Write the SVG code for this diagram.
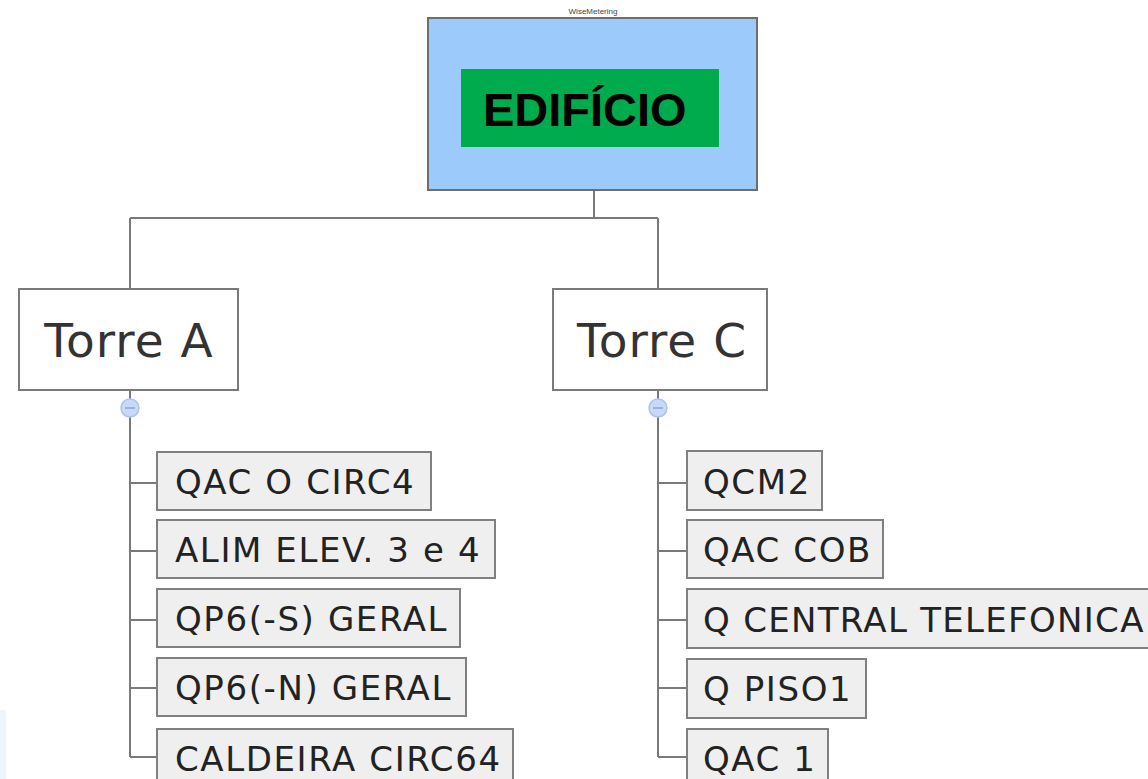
<svg xmlns="http://www.w3.org/2000/svg" width="1148" height="779" viewBox="0 0 1148 779">
  <style>
    .conn { fill: none; stroke: #7a7a7a; stroke-width: 2; }
    .tower rect { fill: #ffffff; stroke: #7a7a7a; stroke-width: 2; }
    .tower text { font-family: "DejaVu Sans", "Liberation Sans", sans-serif; font-size: 47px; letter-spacing: 1px; fill: #333333; text-anchor: middle; }
    .leaf rect { fill: #efefef; stroke: #808080; stroke-width: 2; }
    .leaf text { font-family: "DejaVu Sans", "Liberation Sans", sans-serif; font-size: 34px; letter-spacing: 1.6px; fill: #222222; }
    .toggle circle { fill: #c6daf7; stroke: #a9c3ec; stroke-width: 1.5; }
    .toggle line { stroke: #8aa6d6; stroke-width: 1.5; }
  </style>
  <rect x="0" y="0" width="1148" height="779" fill="#ffffff"/>
  <rect x="0" y="710" width="6" height="69" fill="#eef4fb"/>

  <!-- connectors -->
  <g id="connectors" class="conn">
    <path d="M594 190 V218 M130 218 H658 M130 218 V289 M658 218 V289"/>
    <path d="M130 417 V757 M130 483 H157 M130 551 H157 M130 620 H157 M130 688 H157 M130 757 H157"/>
    <path d="M658 417 V757 M658 483 H687 M658 551 H687 M658 620 H687 M658 688 H687 M658 757 H687"/>
    <path d="M130 390 V399 M658 390 V399"/>
  </g>

  <!-- root -->
  <g id="edificio">
    <text x="593" y="14" font-family="Liberation Sans, sans-serif" font-size="8" fill="#444" text-anchor="middle">WiseMetering</text>
    <rect x="428" y="18" width="329" height="172" fill="#9ccbfb" stroke="#6e6e6e" stroke-width="2"/>
    <rect x="461" y="69" width="258" height="78" fill="#00ab4e"/>
    <text x="483" y="126" font-family="Liberation Sans, Arial, sans-serif" font-size="47" font-weight="bold" fill="#000">EDIFÍCIO</text>
  </g>

  <!-- towers -->
  <g id="torre-a" class="tower">
    <rect x="19" y="289" width="219" height="101"/>
    <text x="129" y="357">Torre A</text>
  </g>
  <g id="torre-c" class="tower">
    <rect x="553" y="289" width="214" height="101"/>
    <text x="662" y="357">Torre C</text>
  </g>

  <g id="toggle-a" class="toggle">
    <circle cx="130" cy="408" r="9"/>
    <line x1="125" y1="408" x2="135" y2="408"/>
  </g>
  <g id="toggle-c" class="toggle">
    <circle cx="658" cy="408" r="9"/>
    <line x1="653" y1="408" x2="663" y2="408"/>
  </g>

  <!-- Torre A children -->
  <g id="qac-o-circ4" class="leaf">
    <rect x="157" y="452" width="274" height="58"/>
    <text x="175" y="494">QAC O CIRC4</text>
  </g>
  <g id="alim-elev" class="leaf">
    <rect x="157" y="520" width="338" height="58"/>
    <text x="175" y="562">ALIM ELEV. 3 e 4</text>
  </g>
  <g id="qp6-s" class="leaf">
    <rect x="157" y="589" width="303" height="58"/>
    <text x="175" y="631">QP6(-S) GERAL</text>
  </g>
  <g id="qp6-n" class="leaf">
    <rect x="157" y="658" width="309" height="58"/>
    <text x="175" y="700">QP6(-N) GERAL</text>
  </g>
  <g id="caldeira" class="leaf">
    <rect x="157" y="729" width="356" height="60"/>
    <text x="175" y="771">CALDEIRA CIRC64</text>
  </g>

  <!-- Torre C children -->
  <g id="qcm2" class="leaf">
    <rect x="687" y="451" width="135" height="59"/>
    <text x="703" y="494">QCM2</text>
  </g>
  <g id="qac-cob" class="leaf">
    <rect x="687" y="520" width="196" height="58"/>
    <text x="703" y="562">QAC COB</text>
  </g>
  <g id="q-central" class="leaf">
    <rect x="687" y="589" width="470" height="59"/>
    <text x="703" y="632" style="letter-spacing:1.3px">Q CENTRAL TELEFONICA</text>
  </g>
  <g id="q-piso1" class="leaf">
    <rect x="687" y="659" width="179" height="59"/>
    <text x="703" y="701">Q PISO1</text>
  </g>
  <g id="qac-1" class="leaf">
    <rect x="687" y="729" width="141" height="60"/>
    <text x="703" y="771">QAC 1</text>
  </g>
</svg>
